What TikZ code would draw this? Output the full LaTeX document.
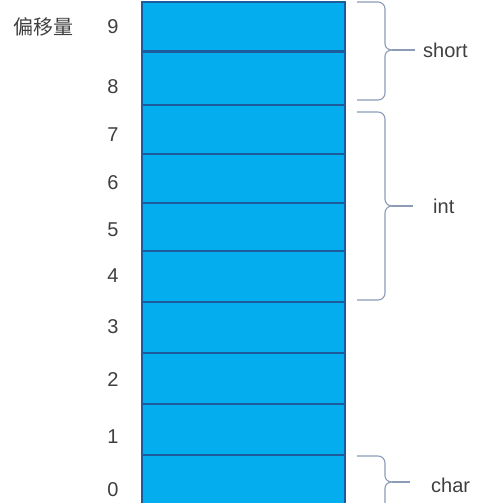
\documentclass[tikz,border=0pt]{standalone}
\usepackage{fontspec}
\setmainfont{Liberation Sans}
\newfontfamily\cjkfont{Noto Sans CJK SC}
\usepackage{tikz}
\usetikzlibrary{positioning}

\definecolor{cellblue}{HTML}{04ADEE}
\definecolor{celledge}{HTML}{1D5C9C}
\definecolor{bracegray}{HTML}{8C9BB8}
\definecolor{labelgray}{HTML}{3F3F3F}

\tikzset{
  offset/.style={text=labelgray, inner sep=0pt, font=\fontsize{20}{24}\selectfont},
  typename/.style={text=labelgray, inner sep=0pt, anchor=west, font=\fontsize{20}{24}\selectfont},
  brace/.style={draw=bracegray, line width=1.1pt},
  cell/.style={fill=cellblue, draw=celledge, line width=2pt},
}

\begin{document}
\begin{tikzpicture}[x=1pt,y=-1pt]
\useasboundingbox (0,0) rectangle (500,503);

\begin{scope}
\clip (0,0) rectangle (500,503);

% memory cells, top to bottom
\foreach \Top/\Bot in {2/52, 52/105, 105/154, 154/203, 203/251, 251/302, 302/353, 353/404, 404/455, 455/510}{
    \draw[cell] (142,\Top) rectangle (345,\Bot);
}
\draw[draw=celledge, line width=3pt] (142,52) -- (345,52); % heavier split

% brace for short
\draw[brace] (357,2) -- (378,2) to[out=0,in=90] (385,9) -- (385,44) to[out=-90,in=180] (392,50);
\draw[brace] (392,50) to[out=180,in=90] (385,56) -- (385,93) to[out=-90,in=0] (378,100) -- (357,100);

% brace for int
\draw[brace] (357,112) -- (378,112) to[out=0,in=90] (385,119) -- (385,199) to[out=-90,in=180] (392,206);
\draw[brace] (392,206) to[out=180,in=90] (385,213) -- (385,293) to[out=-90,in=0] (378,300) -- (357,300);

% brace for char
\draw[brace] (357,456) -- (378,456) to[out=0,in=90] (385,463) -- (385,476) to[out=-90,in=180] (392,482);
\draw[brace] (392,482) to[out=180,in=90] (385,488) -- (385,510);
\end{scope}

\coordinate (tipS) at (392,50);
\coordinate (endS) at (415,50);
\coordinate (tipI) at (392,206);
\coordinate (endI) at (413,206);
\coordinate (tipC) at (392,482);
\coordinate (endC) at (410,482);

\draw[brace] (tipS) -- (endS);
\draw[brace] (tipI) -- (endI);
\draw[brace] (tipC) -- (endC);

\node[typename, right=8pt of endS] (short) {short};
\node[typename, right=20pt of endI] (int) {int};
\node[typename, right=21pt of endC, yshift=-3pt] (char) {char};

% offsets
\node[offset] (head) at (43,27) {\cjkfont 偏移量};
\foreach \Num/\Y in {9/27, 8/87, 7/135, 6/183, 5/230, 4/276, 3/327, 2/380, 1/437, 0/490}{
    \node[offset] (off\Num) at (113,\Y) {\Num};
}

\end{tikzpicture}
\end{document}
